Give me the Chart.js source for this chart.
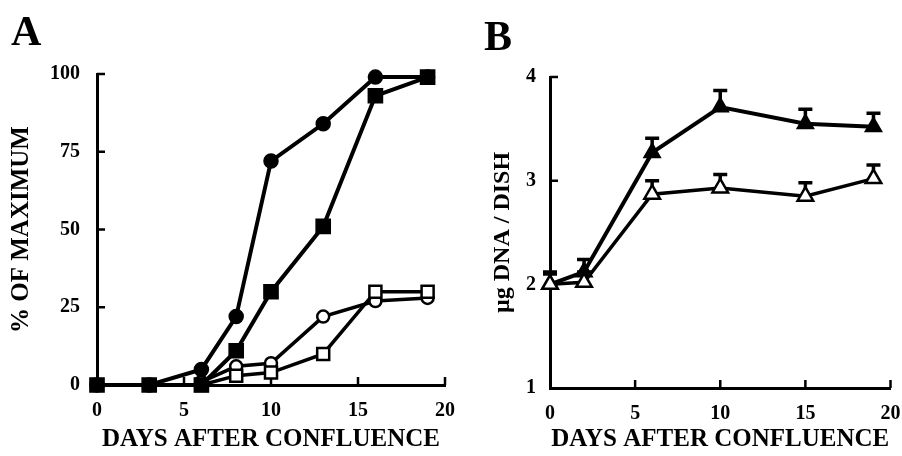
<!DOCTYPE html>
<html>
<head>
<meta charset="utf-8">
<script src="https://cdn.jsdelivr.net/npm/chart.js@4.4.1/dist/chart.umd.min.js"></script>
<style>
body { margin: 0; background: #fff; }
#wrap { position: relative; width: 902px; height: 456px; overflow: hidden; }
canvas { position: absolute; top: 0; }
.panel { position: absolute; font-family: 'Liberation Serif'; font-weight: bold; font-size: 42px; line-height: 1; color: #000; }
</style>
</head>
<body>
<div id="wrap">
<canvas id="ChartA" width="460" height="456" style="left:0"></canvas>
<canvas id="ChartB" width="442" height="456" style="left:460px"></canvas>
<div class="panel" style="left:11px;top:10px">A</div>
<div class="panel" style="left:484px;top:15px">B</div>
</div>
<script>
// panel A
const days_A = [0, 3, 6, 8, 10, 13, 16, 19];
const filled_circles_A = [0, 0, 5, 22, 72, 84, 99, 99];
const filled_squares_A = [0, 0, 0, 11, 30, 51, 93, 99];
const days_A_open = [6, 8, 10, 13, 16, 19];
const open_circles_A = [1, 6, 7, 22, 27, 28];
const open_squares_A = [0, 3, 4, 10, 30, 30];

// panel B
const days_B = [0, 2, 6, 10, 15, 19];
const filled_tri_B = [2.0, 2.12, 3.27, 3.71, 3.55, 3.52];
const filled_tri_err_B = [0.1, 0.12, 0.14, 0.16, 0.14, 0.13];
const open_tri_B = [2.0, 2.02, 2.87, 2.93, 2.85, 3.02];
const open_tri_err_B = [0.12, 0.1, 0.13, 0.13, 0.13, 0.13];

// ticks
const x_ticks = [0, 5, 10, 15, 20];
const y_ticks_A = [0, 25, 50, 75, 100];
const y_ticks_B = [1, 2, 3, 4];

function pts(xs, ys) {
    return xs.map((x, i) => ({x: x, y: ys[i]}));
}

const tickFont = {family: 'Liberation Serif', weight: 'bold', size: 20};

// error bars, only the upper half like in the figure
const errorBars = {
    id: 'errorBars',
    beforeDatasetsDraw(chart) {
        const ctx = chart.ctx;
        const yScale = chart.scales.y;
        chart.data.datasets.forEach((ds, i) => {
            if (!ds.errors) return;
            const meta = chart.getDatasetMeta(i);
            ctx.save();
            ctx.strokeStyle = '#000';
            ctx.lineWidth = 3.5;
            meta.data.forEach((p, j) => {
                const top = yScale.getPixelForValue(ds.data[j].y + ds.errors[j]);
                ctx.beginPath();
                ctx.moveTo(p.x, p.y);
                ctx.lineTo(p.x, top);
                ctx.moveTo(p.x - 7, top);
                ctx.lineTo(p.x + 7, top);
                ctx.stroke();
            });
            ctx.restore();
        });
    }
};

// tick marks pointing into the plot
const innerTicks = {
    id: 'innerTicks',
    beforeDatasetsDraw(chart) {
        const {ctx, chartArea, scales: {x, y}} = chart;
        ctx.save();
        ctx.strokeStyle = '#000';
        ctx.lineWidth = 2.5;
        ctx.beginPath();
        x.ticks.forEach(t => {
            if (t.value === x.min) return;
            const px = x.getPixelForValue(t.value);
            ctx.moveTo(px, chartArea.bottom);
            ctx.lineTo(px, chartArea.bottom - 8);
        });
        y.ticks.forEach(t => {
            if (t.value === y.min) return;
            const py = y.getPixelForValue(t.value);
            ctx.moveTo(chartArea.left, py);
            ctx.lineTo(chartArea.left + 8, py);
        });
        ctx.stroke();
        ctx.restore();
    }
};

function makeOptions(o) {
    return {
        responsive: false,
        animation: false,
        devicePixelRatio: 1,
        events: [],
        layout: {padding: o.padding},
        plugins: {legend: {display: false}, tooltip: {enabled: false}},
        scales: {
            x: {
                type: 'linear',
                min: 0,
                max: 20,
                afterBuildTicks: s => { s.ticks = x_ticks.map(v => ({value: v})); },
                afterFit: s => { s.height = o.xHeight; s.paddingLeft = 0; s.paddingRight = 0; },
                grid: {display: false, drawTicks: false},
                border: {display: true, width: 3, color: '#000'},
                ticks: {color: '#000', font: tickFont, padding: 14, autoSkip: false, maxRotation: 0},
                title: {
                    display: true,
                    text: 'DAYS AFTER CONFLUENCE',
                    color: '#000',
                    font: {family: 'Liberation Serif', weight: 'bold', size: 25},
                    padding: {top: 0, bottom: 1}
                }
            },
            y: {
                type: 'linear',
                min: o.yMin,
                max: o.yMax,
                afterBuildTicks: s => { s.ticks = o.yTicks.map(v => ({value: v})); },
                afterFit: s => { s.width = o.yWidth; s.paddingTop = 0; s.paddingBottom = 0; },
                grid: {display: false, drawTicks: false},
                border: {display: true, width: 3, color: '#000'},
                ticks: {color: '#000', font: tickFont, padding: o.yPad, autoSkip: false},
                title: {
                    display: true,
                    text: o.yTitle,
                    color: '#000',
                    font: {family: 'Liberation Serif', weight: 'bold', size: o.yTitleSize},
                    padding: {top: o.yTitlePad, bottom: 0}
                }
            }
        }
    };
}

const line_A = {
    datasets: [{
        data: pts(days_A, filled_circles_A),
        borderColor: '#000', backgroundColor: '#000', borderWidth: 4,
        pointStyle: 'circle', pointRadius: 7, pointBorderWidth: 1.5,
        pointBackgroundColor: '#000', tension: 0, clip: false
    }, {
        data: pts(days_A, filled_squares_A),
        borderColor: '#000', backgroundColor: '#000', borderWidth: 4,
        pointStyle: 'rect', pointRadius: 10, pointBorderWidth: 1.5,
        pointBackgroundColor: '#000', tension: 0, clip: false
    }, {
        data: pts(days_A_open, open_squares_A),
        borderColor: '#000', backgroundColor: '#fff', borderWidth: 3.5,
        pointStyle: 'rect', pointRadius: 8.5, pointBorderWidth: 2.5,
        pointBackgroundColor: '#fff', tension: 0, clip: false
    }, {
        data: pts(days_A_open, open_circles_A),
        borderColor: '#000', backgroundColor: '#fff', borderWidth: 3.5,
        pointStyle: 'circle', pointRadius: 6, pointBorderWidth: 2.5,
        pointBackgroundColor: '#fff', tension: 0, clip: false
    }]
};

// open triangles first so they sit on top of the filled ones
const line_B = {
    datasets: [{
        data: pts(days_B, open_tri_B),
        errors: open_tri_err_B,
        borderColor: '#000', backgroundColor: '#fff', borderWidth: 3.5,
        pointStyle: 'triangle', pointRadius: 9, pointBorderWidth: 2.5,
        pointBackgroundColor: '#fff', tension: 0, clip: false
    }, {
        data: pts(days_B, filled_tri_B),
        errors: filled_tri_err_B,
        borderColor: '#000', backgroundColor: '#000', borderWidth: 4,
        pointStyle: 'triangle', pointRadius: 9.5, pointBorderWidth: 1.5,
        pointBackgroundColor: '#000', tension: 0, clip: false
    }]
};

const ChartA = new Chart(document.getElementById('ChartA'), {
    type: 'line',
    data: line_A,
    options: makeOptions({
        padding: {top: 74, right: 15, bottom: 0, left: 0},
        xHeight: 71, yWidth: 97, yPad: 17,
        yMin: 0, yMax: 100, yTicks: y_ticks_A,
        yTitle: '% OF MAXIMUM', yTitleSize: 25, yTitlePad: 7
    }),
    plugins: [innerTicks, errorBars]
});

const ChartB = new Chart(document.getElementById('ChartB'), {
    type: 'line',
    data: line_B,
    options: makeOptions({
        padding: {top: 77, right: 7, bottom: 0, left: 0},
        xHeight: 68, yWidth: 90, yPad: 14,
        yMin: 1, yMax: 4, yTicks: y_ticks_B,
        yTitle: 'µg DNA / DISH', yTitleSize: 24, yTitlePad: 28
    }),
    plugins: [innerTicks, errorBars]
});
</script>
</body>
</html>
